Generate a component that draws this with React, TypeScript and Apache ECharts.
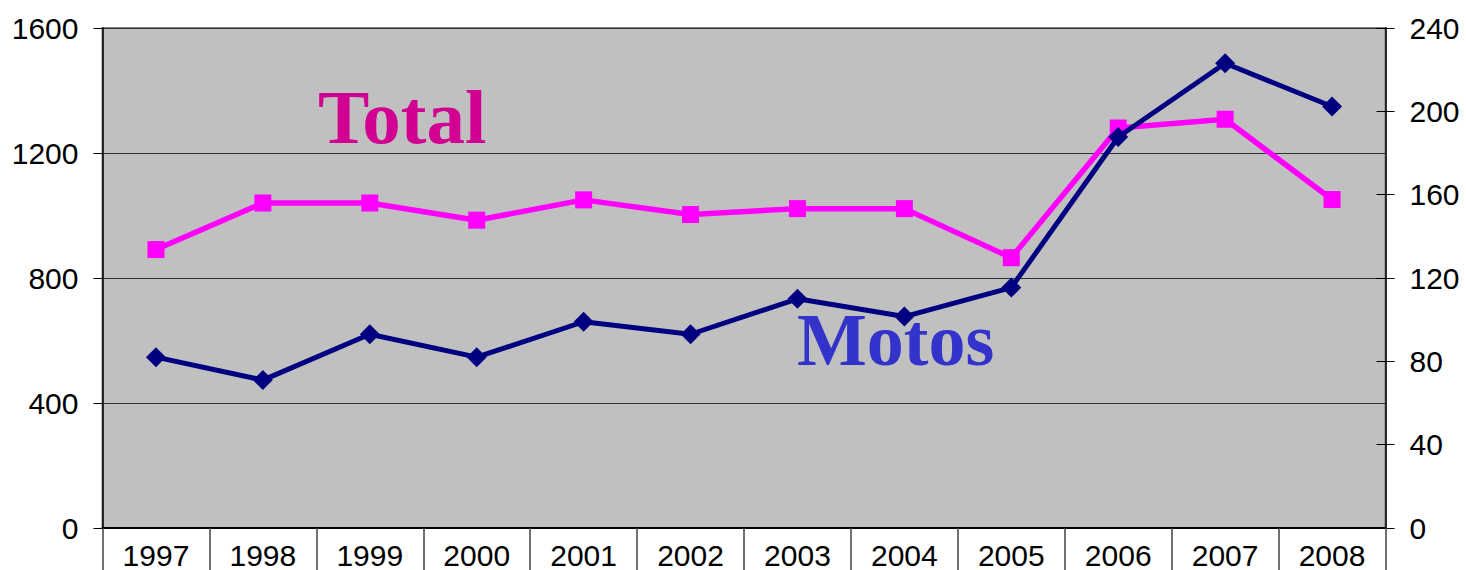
import React, { useEffect, useRef } from "react";
import * as echarts from "echarts";

const years = ["1997", "1998", "1999", "2000", "2001", "2002", "2003", "2004", "2005", "2006", "2007", "2008"];
const totalValues = [891, 1040, 1040, 985, 1050, 1003, 1022, 1022, 865, 1280, 1308, 1051];
const motosValues = [82, 71, 93, 82, 99, 93, 110, 101.5, 115.4, 187.7, 223.1, 202.3];
const leftAxisMax = 1600;
const leftAxisInterval = 400;
const rightAxisMax = 240;
const rightAxisInterval = 40;

export default function App() {
  const ref = useRef<HTMLDivElement>(null);
  useEffect(() => {
    if (!ref.current) return;
    const chart = echarts.init(ref.current, null, { renderer: "svg" });
    const labelFont = "'Liberation Sans', Arial, sans-serif";
    const plain = (v: number) => String(v);
    chart.setOption({
      animation: false,
      grid: {
        left: 102.5,
        top: 28,
        width: 1283,
        height: 501,
        show: true,
        backgroundColor: "#C0C0C0",
        borderColor: "#808080",
        borderWidth: 2,
      },
      xAxis: {
        type: "category",
        data: years,
        boundaryGap: true,
        axisLine: { show: true, lineStyle: { color: "#000", width: 2 } },
        axisTick: { show: true, interval: 0, length: 42, lineStyle: { color: "#404040", width: 1.5 } },
        axisLabel: { interval: 0, fontSize: 30, color: "#000", fontFamily: labelFont, margin: 12 },
        splitLine: { show: false },
      },
      yAxis: [
        {
          type: "value",
          position: "left",
          min: 0,
          max: leftAxisMax,
          interval: leftAxisInterval,
          axisLine: { show: true, lineStyle: { color: "#000", width: 1.5 } },
          axisTick: { show: true, length: 9, lineStyle: { color: "#000", width: 1 } },
          axisLabel: { fontSize: 30, color: "#000", fontFamily: labelFont, margin: 24, padding: [0, 0, 5, 0], formatter: plain },
          splitLine: { show: true, lineStyle: { color: "#333", width: 1.2 } },
        },
        {
          type: "value",
          position: "right",
          min: 0,
          max: rightAxisMax,
          interval: rightAxisInterval,
          axisLine: { show: true, lineStyle: { color: "#000", width: 1.5 } },
          axisTick: { show: true, length: 9, lineStyle: { color: "#000", width: 1 } },
          axisLabel: { fontSize: 30, color: "#000", fontFamily: labelFont, margin: 24, padding: [0, 0, 5, 0], formatter: plain },
          splitLine: { show: false },
        },
        {
          type: "value",
          position: "right",
          min: 0,
          max: rightAxisMax,
          interval: rightAxisInterval,
          axisLine: { show: false },
          axisTick: { show: true, inside: true, length: 9, lineStyle: { color: "#000", width: 1 } },
          axisLabel: { show: false },
          splitLine: { show: false },
        },
      ],
      graphic: [
        {
          type: "text",
          x: 318,
          y: 117,
          z: 10,
          style: {
            text: "Total",
            fill: "#D10093",
            font: "bold 77px 'Liberation Serif', 'Times New Roman', serif",
            textAlign: "left",
            textVerticalAlign: "middle",
          },
        },
        {
          type: "text",
          x: 797,
          y: 340,
          z: 10,
          style: {
            text: "Motos",
            fill: "#3333CC",
            font: "bold 74px 'Liberation Serif', 'Times New Roman', serif",
            textAlign: "left",
            textVerticalAlign: "middle",
          },
        },
      ],
      series: [
        {
          name: "Total",
          type: "line",
          yAxisIndex: 0,
          data: totalValues,
          symbol: "rect",
          symbolSize: 17,
          showSymbol: true,
          lineStyle: { color: "#FF00FF", width: 5.5 },
          itemStyle: { color: "#FF00FF" },
          z: 3,
        },
        {
          name: "Motos",
          type: "line",
          yAxisIndex: 1,
          data: motosValues,
          symbol: "diamond",
          symbolSize: 20,
          showSymbol: true,
          lineStyle: { color: "#000080", width: 5 },
          itemStyle: { color: "#000080" },
          z: 4,
        },
      ],
    });
    return () => chart.dispose();
  }, []);
  return (
    <div
      ref={ref}
      style={{ position: "absolute", left: 0, top: 0, width: 1466, height: 570 }}
    />
  );
}
